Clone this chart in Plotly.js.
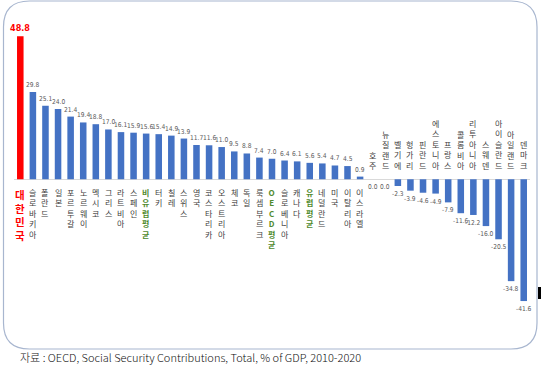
<!DOCTYPE html>
<html>
<head>
<meta charset="utf-8">
<script src="https://cdn.plot.ly/plotly-3.0.1.min.js"></script>
<style>html,body{margin:0;padding:0;background:#fff;}#chart{width:544px;height:387px;}</style>
</head>
<body>
<div id="chart"></div>
<script>
const countries = ["대한민국","슬로바키아","폴란드","일본","포르투갈","노르웨이","멕시코","그리스","라트비아","스페인","비유럽평균","터키","칠레","스위스","영국","코스타리카","오스트리아","체코","독일","룩셈부르크","OECD평균","슬로베니아","캐나다","유럽평균","네덜란드","미국","이탈리아","이스라엘","호주","뉴질랜드","벨기에","헝가리","핀란드","에스토니아","프랑스","콜롬비아","리투아니아","스웨덴","아이슬란드","아일랜드","덴마크"];
const values = [48.8,29.8,25.1,24.0,21.4,19.4,18.8,17.0,16.1,15.9,15.6,15.4,14.9,13.9,11.7,11.6,11.0,9.5,8.8,7.4,7.0,6.4,6.1,5.6,5.4,4.7,4.5,0.9,0.0,0.0,-2.3,-3.9,-4.6,-4.9,-7.9,-11.6,-12.2,-16.0,-20.5,-34.8,-41.6];
const highlight = ["대한민국"];
const averages = ["비유럽평균","OECD평균","유럽평균"];
const caption = "자료 : OECD, Social Security Contributions, Total, % of GDP, 2010-2020";

const W = 544, H = 387;
const M = {l: 14, r: 14, t: 27, b: 76};
const PW = W - M.l - M.r, PH = H - M.t - M.b;
const px = x => (x - M.l) / PW;
const py = y => (H - M.b - y) / PH;

const idx = countries.map((c, i) => i);
const barColors = countries.map(c => highlight.includes(c) ? "#FF0000" : "#4472C4");

const annotations = [];
countries.forEach((c, i) => {
  const v = values[i];
  const isHi = highlight.includes(c);
  const isAvg = averages.includes(c);
  const labelColor = isHi ? "#FF0000" : (isAvg ? "#4F8A2E" : "#404040");
  annotations.push({
    x: i, y: 0, xref: "x", yref: "y",
    text: Array.from(c).join("<br>"),
    showarrow: false,
    yanchor: v > 0 ? "top" : "bottom",
    yshift: v > 0 ? -6 : 6,
    font: {family: "Noto Sans CJK KR", size: isHi ? 10.5 : 8, color: labelColor, weight: (isHi || isAvg) ? "bold" : "normal"},
    align: "center"
  });
  annotations.push({
    x: i, y: v, xref: "x", yref: "y",
    text: v.toFixed(1),
    showarrow: false,
    yanchor: v > 0 ? "bottom" : "top",
    yshift: v > 0 ? 1 : -2,
    font: {family: "Liberation Sans Narrow, DejaVu Sans Condensed, Liberation Sans", size: isHi ? 9 : 6.6, color: isHi ? "#FF0000" : "#595959", weight: isHi ? "bold" : "normal"}
  });
});

annotations.push({
  xref: "paper", yref: "paper", x: px(18), y: py(357),
  xanchor: "left", yanchor: "middle", showarrow: false,
  text: caption,
  font: {family: "Noto Sans CJK KR", size: 11, color: "#111111", weight: 300}
});

const fx0 = 3.5, fx1 = 537, fy0 = 1, fy1 = 349, rr = 26;
const P = (x, y) => px(x).toFixed(5) + "," + py(y).toFixed(5);
const framePath = "M" + P(fx0 + rr, fy0) + " L" + P(fx1 - rr, fy0) +
  " Q" + P(fx1, fy0) + " " + P(fx1, fy0 + rr) +
  " L" + P(fx1, fy1 - rr) +
  " Q" + P(fx1, fy1) + " " + P(fx1 - rr, fy1) +
  " L" + P(fx0 + rr, fy1) +
  " Q" + P(fx0, fy1) + " " + P(fx0, fy1 - rr) +
  " L" + P(fx0, fy0 + rr) +
  " Q" + P(fx0, fy0) + " " + P(fx0 + rr, fy0) + " Z";

const shapes = [
  {type: "path", xref: "paper", yref: "paper", path: framePath, line: {color: "#A8B6CF", width: 1.2}, fillcolor: "rgba(0,0,0,0)", layer: "below"},
  {type: "rect", xref: "paper", yref: "paper", x0: px(538), x1: px(541), y0: py(299), y1: py(287), line: {width: 0}, fillcolor: "#000000"}
];

const trace = {
  type: "bar", x: idx, y: values,
  marker: {color: barColors, line: {width: 0}},
  hoverinfo: "skip"
};

const layout = {
  width: W, height: H,
  margin: M,
  paper_bgcolor: "#ffffff", plot_bgcolor: "rgba(0,0,0,0)",
  bargap: 0.48,
  showlegend: false,
  xaxis: {range: [-0.5, countries.length - 0.5], showticklabels: false, showgrid: false, zeroline: false, showline: false, ticks: ""},
  yaxis: {range: [-45, 52], showticklabels: false, showgrid: false, zeroline: true, zerolinecolor: "#D9D9D9", zerolinewidth: 1, showline: false, ticks: ""},
  annotations: annotations,
  shapes: shapes
};

Plotly.newPlot("chart", [trace], layout, {displayModeBar: false, staticPlot: true});
</script>
</body>
</html>
